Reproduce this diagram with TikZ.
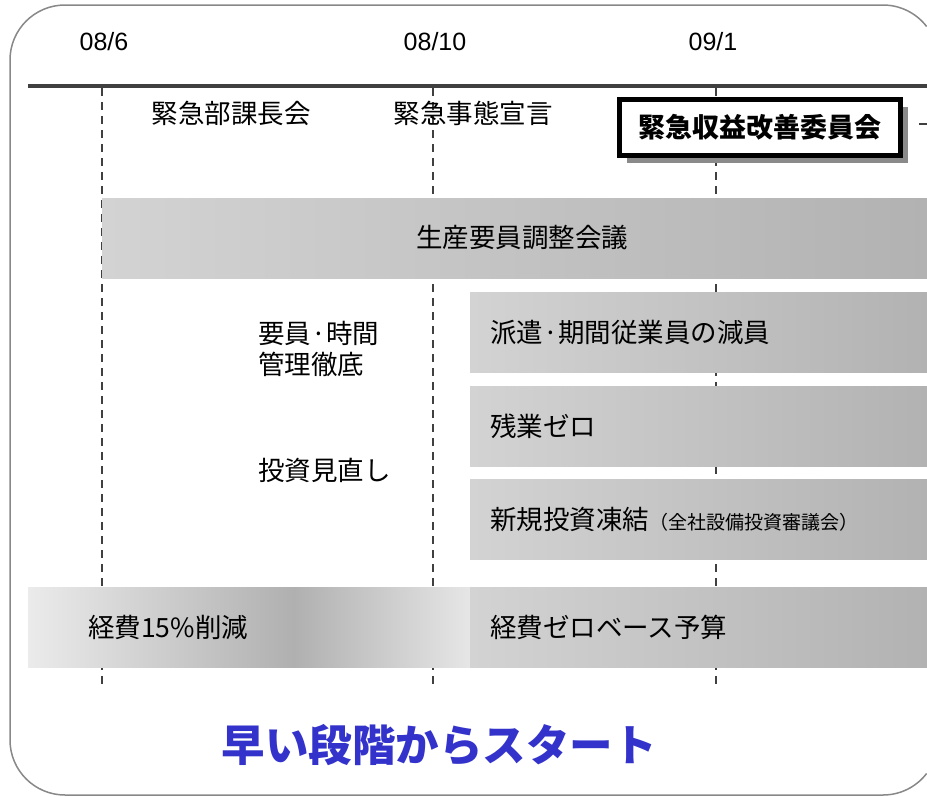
\documentclass[tikz,border=0pt]{standalone}
\usepackage{fontspec}
\setmainfont{Liberation Sans}
\newfontfamily\jp{Noto Sans CJK JP}
\usetikzlibrary{shadows}
\definecolor{lineg}{HTML}{404040}
\definecolor{frameg}{HTML}{888888}
\definecolor{shadowg}{HTML}{8A8A8A}
\definecolor{barL}{HTML}{D3D3D3}
\definecolor{barR}{HTML}{B2B2B2}
\definecolor{costA}{HTML}{EBEBEB}
\definecolor{costB}{HTML}{B0B0B0}
\definecolor{costC}{HTML}{E6E6E6}
\definecolor{titleblue}{HTML}{3333CC}
\pgfdeclarehorizontalshading{costshade}{100bp}{color(0bp)=(costA); color(25bp)=(costA); color(55bp)=(costB); color(75bp)=(costC); color(100bp)=(costC)}
\begin{document}
\begin{tikzpicture}[x=1pt,y=-1pt,
  jtext/.style={font=\jp\fontsize{26.5}{31}\selectfont, inner sep=0pt},
  datelbl/.style={font=\fontsize{25}{30}\selectfont, inner sep=0pt},
  bar/.style={anchor=north west, inner sep=0pt, minimum height=80pt, left color=barL, right color=barR, draw=none},
  bartext/.style={jtext, anchor=west},
  period/.style={lineg, line width=1.5pt, dash pattern=on 8pt off 6pt},
  frame/.style={frameg, line width=1.5pt},
]
\useasboundingbox (0,0) rectangle (927,796);
% outer frame (its right side lies beyond the picture edge)
\draw[frame, rounded corners=55pt] (883,5) -- (10,5) -- (10,795) -- (883,795);
\draw[frame] (883,5) arc[start angle=-90, end angle=-37.5, radius=55];
\draw[frame] (883,795) arc[start angle=90, end angle=37.5, radius=55];
% timeline
\coordinate (tl0) at (28,86);
\coordinate (tl1) at (927,86);
\draw[lineg, line width=3.5pt] (tl0) -- (tl1);
% period lines
\foreach \x/\n in {102/a,433/b,716/c}{
  \coordinate (top\n) at (\x,88);
  \coordinate (bot\n) at (\x,686);
  \draw[period] (top\n) -- (bot\n);
}
% dates
\node[datelbl] (d1) at (104,42) {08/6};
\node[datelbl] (d2) at (435,42) {08/10};
\node[datelbl] (d3) at (713,42) {09/1};
% top labels
\node[jtext] (l1) at (231,113) {緊急部課長会};
\node[jtext] (l2) at (473,113) {緊急事態宣言};
% committee box
\node[draw=black, line width=5pt, fill=white, minimum width=281pt, minimum height=56pt, inner sep=0pt,
  font=\jp\bfseries\fontsize{27}{30}\selectfont,
  drop shadow={fill=shadowg, opacity=1, shadow xshift=7pt, shadow yshift=-7pt}] (comm) at (760,127.5) {緊急収益改善委員会};
\coordinate (cut0) at (919,124);
\coordinate (cut1) at (927,124);
\draw[lineg, line width=1.5pt] (cut0) -- (cut1);
% bars
\node[bar, minimum width=825pt] (b1) at (102,198) {};
\node[jtext] (t1) at (522,238) {生産要員調整会議};
\node[bar, minimum width=457pt] (b2) at (470,292) {};
\node[bartext] (t2) at ([xshift=20pt]b2.west) {派遣·期間従業員の減員};
\node[bar, minimum width=457pt] (b3) at (470,386) {};
\node[bartext] (t3) at ([xshift=20pt]b3.west) {残業ゼロ};
\node[bar, minimum width=457pt] (b4) at (470,479) {};
\node[bartext] (t4) at ([xshift=20pt]b4.west) {新規投資凍結{\fontsize{19}{22}\selectfont（全社設備投資審議会）}};
\node[anchor=north west, inner sep=0pt, minimum width=442pt, minimum height=80pt, shading=costshade] (b5) at (28,587) {};
\node[bartext] (t5) at ([xshift=60pt]b5.west) {経費15\%削減};
\node[bar, minimum width=457pt] (b6) at (470,587) {};
\node[bartext] (t6) at ([xshift=20pt]b6.west) {経費ゼロベース予算};
% left texts
\node[jtext, anchor=west, align=left] (l3) at (258,348.5) {要員·時間\\管理徹底};
\node[jtext, anchor=west] (l4) at (258,470) {投資見直し};
% title
\node[font=\jp\bfseries\fontsize{43.5}{48}\selectfont, text=titleblue, inner sep=0pt] (title) at (439,745) {早い段階からスタート};
\end{tikzpicture}
\end{document}
